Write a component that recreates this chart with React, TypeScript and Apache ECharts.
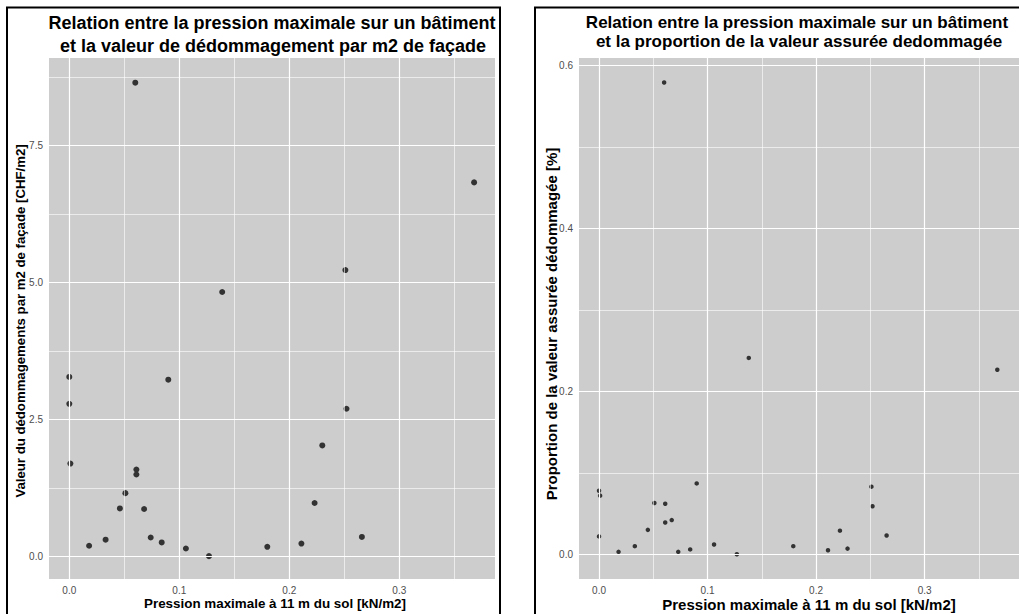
import React, { useEffect, useRef } from "react";
import * as echarts from "echarts";

// Left panel: pressure vs damage value per m2 of facade
const LEFT_X = [0.060, 0.368, 0.251, 0.139, 0.0, 0.090, 0.0, 0.001, 0.061, 0.061, 0.051, 0.046, 0.068, 0.074, 0.033, 0.084, 0.018, 0.106, 0.127, 0.180, 0.252, 0.230, 0.223, 0.266, 0.211];
const LEFT_Y = [8.65, 6.83, 5.23, 4.83, 3.28, 3.23, 2.79, 1.70, 1.59, 1.50, 1.16, 0.88, 0.87, 0.35, 0.31, 0.26, 0.20, 0.15, 0.01, 0.18, 2.70, 2.03, 0.98, 0.36, 0.24];

// Right panel: pressure vs proportion of insured value damaged
const RIGHT_X = [0.060, 0.138, 0.367, 0.0, 0.001, 0.0, 0.090, 0.051, 0.061, 0.067, 0.061, 0.045, 0.033, 0.018, 0.073, 0.084, 0.106, 0.127, 0.179, 0.251, 0.252, 0.222, 0.265, 0.229, 0.211];
const RIGHT_Y = [0.579, 0.241, 0.2265, 0.078, 0.072, 0.022, 0.087, 0.063, 0.062, 0.042, 0.039, 0.030, 0.010, 0.003, 0.003, 0.006, 0.012, 0.000, 0.010, 0.083, 0.059, 0.029, 0.023, 0.007, 0.005];

const X_TICKS = [0, 0.1, 0.2, 0.3];
const X_MINOR = [0.05, 0.15, 0.25, 0.35];
const LEFT_Y_TICKS = [0, 2.5, 5, 7.5];
const LEFT_Y_MINOR = [1.25, 3.75, 6.25, 8.75];
const RIGHT_Y_TICKS = [0, 0.2, 0.4, 0.6];
const RIGHT_Y_MINOR = [0.1, 0.3, 0.5];

const TITLE_LEFT = ["Relation entre la pression maximale sur un bâtiment", "et la valeur de dédommagement par m2 de façade"];
const TITLE_RIGHT = ["Relation entre la pression maximale sur un bâtiment", "et la proportion de la valeur assurée dedommagée"];
const X_NAME = "Pression maximale à 11 m du sol [kN/m2]";
const Y_NAME_LEFT = "Valeur du dédommagements par m2 de façade [CHF/m2]";
const Y_NAME_RIGHT = "Proportion de la valeur assurée dédommagée [%]";

const FONT = '"Liberation Sans", Arial, Helvetica, sans-serif';

export default function App() {
  const ref = useRef<HTMLDivElement>(null);

  useEffect(() => {
    if (!ref.current) return;
    const chart = echarts.init(ref.current, undefined, { renderer: "svg" });

    const gridLines = (xMaj: number[], xMin: number[], yMaj: number[], yMin: number[]) => {
      const maj = { color: "#ffffff", width: 1.2, type: "solid" };
      const min = { color: "#ffffff", width: 0.6, type: "solid" };
      return [
        ...xMin.map((v) => ({ xAxis: v, lineStyle: min })),
        ...yMin.map((v) => ({ yAxis: v, lineStyle: min })),
        ...xMaj.map((v) => ({ xAxis: v, lineStyle: maj })),
        ...yMaj.map((v) => ({ yAxis: v, lineStyle: maj })),
      ];
    };

    const xAxisBase = (gridIndex: number) => ({
      type: "value",
      gridIndex,
      min: -0.01845,
      max: 0.387,
      axisLine: { show: false },
      splitLine: { show: false },
      axisTick: { show: true, length: 3, customValues: X_TICKS, lineStyle: { color: "#333333", width: 1 } },
      axisLabel: {
        show: true,
        customValues: X_TICKS,
        margin: 6,
        color: "#4d4d4d",
        fontSize: 10,
        fontFamily: FONT,
        formatter: (v: number) => v.toFixed(1),
      },
    });

    const yAxisBase = (gridIndex: number, min: number, max: number, ticks: number[]) => ({
      type: "value",
      gridIndex,
      min,
      max,
      axisLine: { show: false },
      splitLine: { show: false },
      axisTick: { show: true, length: 3, customValues: ticks, lineStyle: { color: "#333333", width: 1 } },
      axisLabel: {
        show: true,
        customValues: ticks,
        margin: 6,
        color: "#4d4d4d",
        fontSize: 10,
        fontFamily: FONT,
        formatter: (v: number) => v.toFixed(1),
      },
    });

    const option: any = {
      animation: false,
      backgroundColor: "#ffffff",
      grid: [
        { left: 49, top: 58, width: 446, height: 521, show: true, backgroundColor: "#cdcdcd", borderWidth: 0, containLabel: false },
        { left: 579, top: 58, width: 446, height: 521, show: true, backgroundColor: "#cdcdcd", borderWidth: 0, containLabel: false },
      ],
      xAxis: [xAxisBase(0), xAxisBase(1)],
      yAxis: [
        yAxisBase(0, -0.407, 9.1, LEFT_Y_TICKS),
        yAxisBase(1, -0.0303, 0.609, RIGHT_Y_TICKS),
      ],
      series: [
        {
          type: "scatter",
          xAxisIndex: 0,
          yAxisIndex: 0,
          z: 1,
          data: [],
          silent: true,
          markLine: {
            silent: true,
            symbol: ["none", "none"],
            label: { show: false },
            animation: false,
            data: gridLines(X_TICKS, X_MINOR, LEFT_Y_TICKS, LEFT_Y_MINOR),
          },
        },
        {
          type: "scatter",
          xAxisIndex: 1,
          yAxisIndex: 1,
          z: 1,
          data: [],
          silent: true,
          markLine: {
            silent: true,
            symbol: ["none", "none"],
            label: { show: false },
            animation: false,
            data: gridLines(X_TICKS, X_MINOR, RIGHT_Y_TICKS, RIGHT_Y_MINOR),
          },
        },
        {
          type: "scatter",
          xAxisIndex: 0,
          yAxisIndex: 0,
          z: 3,
          symbolSize: 6,
          itemStyle: { color: "#333333", opacity: 1 },
          data: LEFT_X.map((x, i) => [x, LEFT_Y[i]]),
        },
        {
          type: "scatter",
          xAxisIndex: 1,
          yAxisIndex: 1,
          z: 3,
          symbolSize: 4.5,
          itemStyle: { color: "#333333", opacity: 1 },
          data: RIGHT_X.map((x, i) => [x, RIGHT_Y[i]]),
        },
      ],
      graphic: [
        { type: "rect", z: 100, silent: true, shape: { x: 7, y: 7.5, width: 493, height: 630 }, style: { fill: "none", stroke: "#000000", lineWidth: 2 } },
        { type: "rect", z: 100, silent: true, shape: { x: 535, y: 7.5, width: 600, height: 630 }, style: { fill: "none", stroke: "#000000", lineWidth: 2 } },
        { type: "text", z: 100, x: 272, y: 22.5, style: { text: TITLE_LEFT[0], font: `bold 18px ${FONT}`, fill: "#000000", textAlign: "center", textVerticalAlign: "middle", align: "center", verticalAlign: "middle" } },
        { type: "text", z: 100, x: 273, y: 45.5, style: { text: TITLE_LEFT[1], font: `bold 18px ${FONT}`, fill: "#000000", textAlign: "center", textVerticalAlign: "middle", align: "center", verticalAlign: "middle" } },
        { type: "text", z: 100, x: 797, y: 22.5, style: { text: TITLE_RIGHT[0], font: `bold 17px ${FONT}`, fill: "#000000", textAlign: "center", textVerticalAlign: "middle", align: "center", verticalAlign: "middle" } },
        { type: "text", z: 100, x: 799, y: 41.5, style: { text: TITLE_RIGHT[1], font: `bold 17px ${FONT}`, fill: "#000000", textAlign: "center", textVerticalAlign: "middle", align: "center", verticalAlign: "middle" } },
        { type: "text", z: 100, x: 275, y: 603.5, style: { text: X_NAME, font: `bold 13.4px ${FONT}`, fill: "#000000", textAlign: "center", textVerticalAlign: "middle", align: "center", verticalAlign: "middle" } },
        { type: "text", z: 100, x: 809, y: 604, style: { text: X_NAME, font: `bold 15px ${FONT}`, fill: "#000000", textAlign: "center", textVerticalAlign: "middle", align: "center", verticalAlign: "middle" } },
        { type: "text", z: 100, x: 20, y: 321, rotation: Math.PI / 2, style: { text: Y_NAME_LEFT, font: `bold 13.2px ${FONT}`, fill: "#000000", textAlign: "center", textVerticalAlign: "middle", align: "center", verticalAlign: "middle" } },
        { type: "text", z: 100, x: 551, y: 324, rotation: Math.PI / 2, style: { text: Y_NAME_RIGHT, font: `bold 15px ${FONT}`, fill: "#000000", textAlign: "center", textVerticalAlign: "middle", align: "center", verticalAlign: "middle" } },
      ],
    };

    chart.setOption(option);
    return () => chart.dispose();
  }, []);

  return (
    <div
      ref={ref}
      style={{ position: "absolute", left: 0, top: 0, width: 1019, height: 614, background: "#ffffff" }}
    />
  );
}
